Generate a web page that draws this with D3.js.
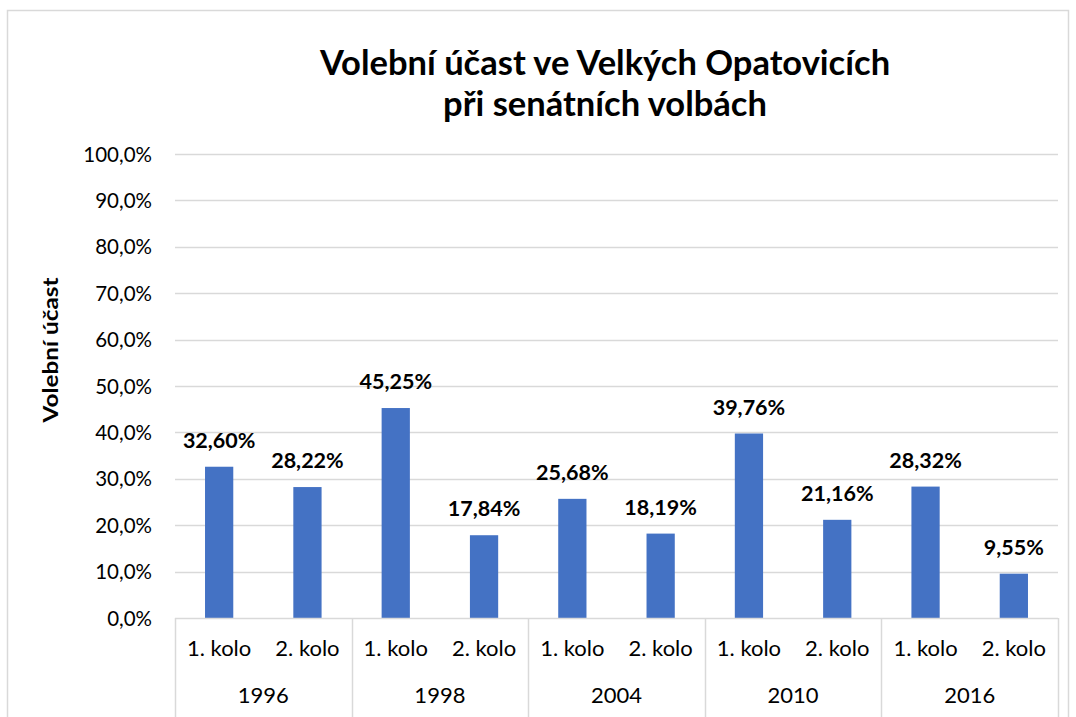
<!DOCTYPE html>
<html>
<head>
<meta charset="utf-8">
<script src="https://cdn.jsdelivr.net/npm/d3@7"></script>
<style>
  body { margin: 0; background: #fff; }
  text { font-family: Lato, "Open Sans", sans-serif; }
</style>
</head>
<body>
<svg id="chart" width="1076" height="717"></svg>
<script>
const years = ['1996', '1998', '2004', '2010', '2016'];
const rounds = ['1. kolo', '2. kolo'];
const turnout = [
  [0.3260, 0.2822],
  [0.4525, 0.1784],
  [0.2568, 0.1819],
  [0.3976, 0.2116],
  [0.2832, 0.0955]
];
const yTicks = [0, 0.1, 0.2, 0.3, 0.4, 0.5, 0.6, 0.7, 0.8, 0.9, 1.0];

const cz = d3.formatLocale({decimal: ',', thousands: ' ', grouping: [3], currency: ['', ' Kč']});
const tickFmt = cz.format('.1%');
const labelFmt = cz.format('.2%');

const BAR = '#4472C4';
const GRID = '#d9d9d9';

let svg = d3.select('#chart'),
    width = +svg.attr('width'),
    height = +svg.attr('height');

const plot = {left: 175, right: 1058, top: 154, bottom: 618};

// chart frame
svg.append('rect')
  .attr('x', 7.5).attr('y', 10.5)
  .attr('width', 1061).attr('height', 720)
  .attr('fill', '#fff')
  .attr('stroke', GRID)
  .attr('stroke-width', 1.5);

let y = d3.scaleLinear()
  .domain([0, 1])
  .range([plot.bottom, plot.top]);

let x0 = d3.scaleBand()
  .domain(years)
  .range([plot.left, plot.right]);

let x1 = d3.scaleBand()
  .domain(rounds)
  .range([0, x0.bandwidth()])
  .paddingInner(0.68)
  .paddingOuter(0.34);

// gridlines
svg.append('g')
  .selectAll('line')
  .data(yTicks.slice(1))
  .enter()
  .append('line')
  .attr('x1', plot.left).attr('x2', plot.right)
  .attr('y1', d => Math.round(y(d)) + 0.5)
  .attr('y2', d => Math.round(y(d)) + 0.5)
  .attr('stroke', GRID)
  .attr('stroke-width', 1.5);

// y axis labels
let yAxis = svg.append('g')
  .attr('transform', `translate(${plot.left - 23}, 0)`)
  .call(d3.axisLeft(y).tickValues(yTicks).tickFormat(tickFmt).tickSize(0).tickPadding(0));

yAxis.select('.domain').remove();
yAxis.selectAll('text')
  .attr('fill', '#000')
  .style('font-size', '20.5px')
  .attr('dy', '0.35em');

// bars
let group = svg.append('g')
  .selectAll('g.year')
  .data(years)
  .enter()
  .append('g')
  .attr('class', 'year')
  .attr('transform', d => `translate(${x0(d)}, 0)`);

let bar = group.selectAll('g.bar')
  .data((d, i) => rounds.map((r, j) => ({round: r, value: turnout[i][j]})))
  .enter()
  .append('g')
  .attr('class', 'bar');

bar.append('rect')
  .attr('x', d => x1(d.round))
  .attr('width', x1.bandwidth())
  .attr('y', d => y(d.value))
  .attr('height', d => y(0) - y(d.value))
  .attr('fill', BAR);

bar.append('text')
  .attr('text-anchor', 'middle')
  .attr('x', d => x1(d.round) + x1.bandwidth() / 2)
  .attr('y', d => y(d.value) - 19)
  .style('font-size', '21.5px')
  .style('font-weight', 700)
  .text(d => labelFmt(d.value));

// category axis (two levels)
let xAxis = svg.append('g');

xAxis.append('line')
  .attr('x1', plot.left).attr('x2', plot.right)
  .attr('y1', plot.bottom + 0.5).attr('y2', plot.bottom + 0.5)
  .attr('stroke', GRID)
  .attr('stroke-width', 1.5);

xAxis.selectAll('line.sep')
  .data(years.map(d => x0(d)).concat([plot.right]))
  .enter()
  .append('line')
  .attr('class', 'sep')
  .attr('x1', d => Math.round(d) + 0.5).attr('x2', d => Math.round(d) + 0.5)
  .attr('y1', plot.bottom).attr('y2', height)
  .attr('stroke', GRID)
  .attr('stroke-width', 1.5);

group.selectAll('text.round')
  .data(rounds)
  .enter()
  .append('text')
  .attr('class', 'round')
  .attr('text-anchor', 'middle')
  .attr('x', d => x1(d) + x1.bandwidth() / 2)
  .attr('y', 656)
  .style('font-size', '22px')
  .text(d => d);

group.append('text')
  .attr('text-anchor', 'middle')
  .attr('x', x0.bandwidth() / 2)
  .attr('y', 703)
  .style('font-size', '22px')
  .text(d => d);

// y axis title
svg.append('text')
  .attr('text-anchor', 'middle')
  .attr('transform', 'translate(58, 350) rotate(-90)')
  .style('font-size', '21px')
  .style('font-weight', 700)
  .attr('textLength', 145)
  .attr('lengthAdjust', 'spacingAndGlyphs')
  .text('Volební účast');

// title
let title = svg.append('text')
  .attr('text-anchor', 'middle')
  .style('font-size', '34.5px')
  .style('font-weight', 700);

title.append('tspan')
  .attr('x', 605).attr('y', 75)
  .text('Volební účast ve Velkých Opatovicích');

title.append('tspan')
  .attr('x', 605).attr('y', 116)
  .text('při senátních volbách');
</script>
</body>
</html>
